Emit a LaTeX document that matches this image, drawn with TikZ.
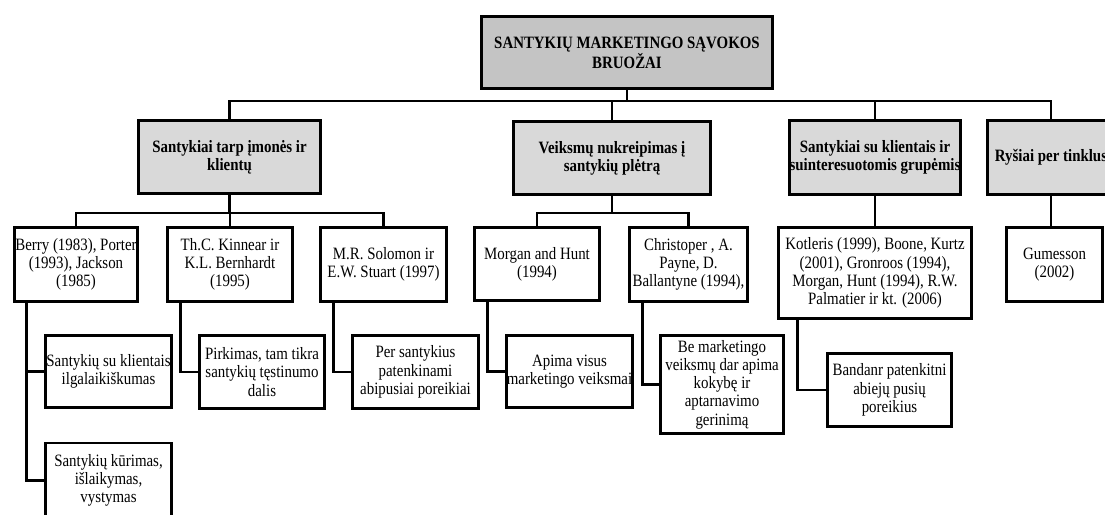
\documentclass[tikz,border=0pt]{standalone}
\usepackage{fontspec}
\setmainfont{Liberation Serif}[FakeStretch=0.86]
\usetikzlibrary{calc}
\begin{document}
\begin{tikzpicture}[x=0.75pt,y=-0.75pt,
  box/.style={draw, line width=2.2pt, align=center, inner sep=0pt, fill=white,
    font=\fontsize{13}{13.7}\selectfont},
  head/.style={box, fill=black!15, font=\bfseries\fontsize{13}{13.7}\selectfont},
  sz/.style 2 args={minimum width=#1*0.75pt, minimum height=#2*0.75pt},
  link/.style={draw, line width=2.2pt}]
\path[use as bounding box] (0,0) rectangle (1105,514);
\clip (0,0) rectangle (1105,514);
% level 1
\node[head, fill=black!23, sz={291}{72}] (top) at (627,52.5) {SANTYKIŲ MARKETINGO SĄVOKOS\\BRUOŽAI};
% level 2
\node[head, sz={182}{73}] (c1) at (229.5,157) {Santykiai tarp įmonės ir\\klientų};
\node[head, sz={197}{73}] (c2) at (612,158) {Veiksmų nukreipimas į\\santykių plėtrą};
\node[head, sz={171}{74}] (c3) at (875,157.5) {Santykiai su klientais ir\\suinteresuotomis grupėmis};
\node[head, sz={127}{74}] (c4) at (1051,157.5) {Ryšiai per tinklus};
% level 3
\node[box, sz={123}{74}] (b1) at (76,264.5) {Berry (1983), Porter\\(1993), Jackson\\(1985)};
\node[box, sz={125}{74}] (b2) at (230,264.5) {Th.C. Kinnear ir\\K.L. Bernhardt\\(1995)};
\node[box, sz={126}{74}] (b3) at (383.5,264.5) {M.R. Solomon ir\\E.W. Stuart (1997)};
\node[box, sz={125}{73}] (b4) at (537,264) {Morgan and Hunt\\(1994)};
\node[box, sz={118}{74}] (b5) at (688.5,264.5) {Christoper , A.\\Payne, D.\\Ballantyne (1994),};
\node[box, sz={193}{91}] (b6) at (875,273) {Kotleris (1999), Boone, Kurtz\\(2001), Gronroos (1994),\\Morgan, Hunt (1994), R.W.\\Palmatier ir kt. (2006)};
\node[box, sz={96}{74}] (b7) at (1054.5,264.5) {Gumesson\\(2002)};
% level 4
\node[box, sz={126}{72}] (d1) at (108.5,371.5) {Santykių su klientais\\ilgalaikiškumas};
\node[box, sz={126}{75}] (d2) at (108.5,480.5) {Santykių kūrimas,\\išlaikymas,\\vystymas};
\node[box, sz={125}{73}] (d3) at (262,372) {Pirkimas, tam tikra\\santykių tęstinumo\\dalis};
\node[box, sz={126}{73}] (d4) at (415.5,372) {Per santykius\\patenkinami\\abipusiai poreikiai};
\node[box, sz={126}{72}] (d5) at (569.5,371.5) {Apima visus\\marketingo veiksmai};
\node[box, sz={123}{98}] (d6) at (722,384.5) {Be marketingo\\veiksmų dar apima\\kokybę ir\\aptarnavimo\\gerinimą};
\node[box, sz={124}{73}] (d7) at (889.5,390) {Bandanr patenkitni\\abiejų pusių\\poreikius};
% connectors
\coordinate (bus0) at (0,101);
\coordinate (bus1) at (0,213);
\draw[link] (top.south) -- (top.south |- bus0);
\draw[link] (c1.north) |- (c4.north |- bus0) -- (c4.north);
\draw[link] (c2.north) -- (c2.north |- bus0);
\draw[link] (c3.north) -- (c3.north |- bus0);
\draw[link] (c1.south) -- (c1.south |- bus1);
\draw[link] (b1.north) |- (b3.north |- bus1) -- (b3.north);
\draw[link] (b2.north) -- (b2.north |- bus1);
\draw[link] (c2.south) -- (c2.south |- bus1);
\draw[link] (b4.north) |- (b5.north |- bus1) -- (b5.north);
\draw[link] (c3.south) -- (b6.north);
\draw[link] (c4.south) -- (c4.south |- b7.north);
\coordinate (s1) at ($(b1.south west)+(13,0)$);
\coordinate (s2) at ($(b2.south west)+(14,0)$);
\coordinate (s3) at ($(b3.south west)+(14,0)$);
\coordinate (s4) at ($(b4.south west)+(14,0)$);
\coordinate (s5) at ($(b5.south west)+(14,0)$);
\coordinate (s6) at ($(b6.south west)+(20,0)$);
\draw[link] (s1) |- (d2.west);
\draw[link] (d1.west) -- (d1.west -| s1);
\draw[link] (s2) |- (d3.west);
\draw[link] (s3) |- (d4.west);
\draw[link] (s4) |- (d5.west);
\draw[link] (s5) |- (d6.west);
\draw[link] (s6) |- (d7.west);
\end{tikzpicture}
\end{document}
